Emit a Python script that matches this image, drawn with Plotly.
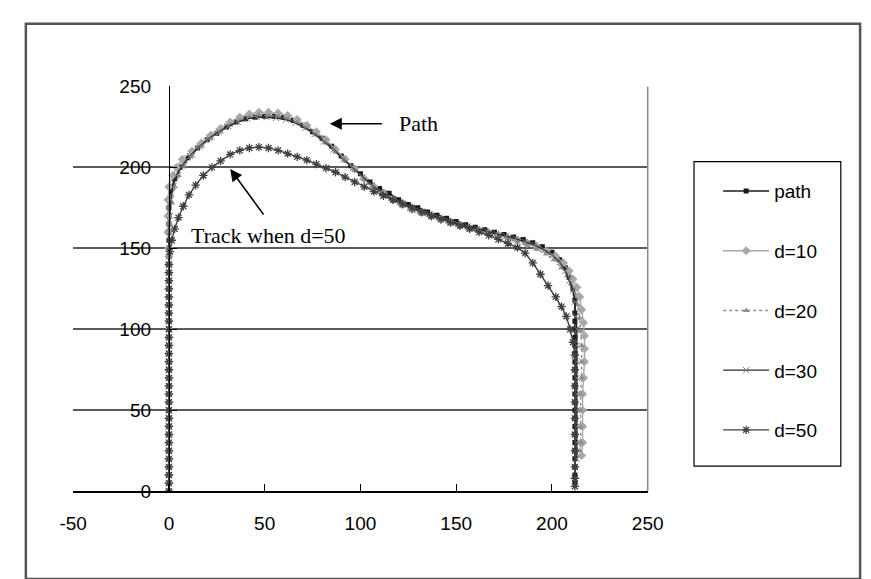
import plotly.graph_objects as go

# ---------------- data ----------------
path_x = [0, 0, 0, 0, 0, 0, 0, 0, 0, 0, 0, 0, 0, 0, 0, 0, 0, 0, 0, 0, 0, 0, 0, 0, 0, 0, 0, 0, 0, 0, 0, 0, 0, 0, 0, 0, 0,
          1, 3, 6, 10, 15, 20, 25, 30, 35, 40, 45, 50, 55, 60, 65, 70, 75, 80, 85, 90, 95, 100, 105, 110, 115, 120,
          125, 130, 135, 140, 145, 150, 155, 160, 165, 170, 175, 180, 185, 190, 195, 200, 204, 207, 209, 211, 212,
          212, 212, 212, 212, 212, 212, 212, 212, 212, 212, 212, 212, 212, 212, 212, 212, 212, 212, 212, 212, 212, 212]
path_y = [0, 5, 10, 15, 20, 25, 30, 35, 40, 45, 50, 55, 60, 65, 70, 75, 80, 85, 90, 95, 100, 105, 110, 115, 120, 125,
          130, 135, 140, 145, 150, 155, 160, 165, 170, 175, 180,
          186, 193, 200, 206, 212, 217, 221, 225, 228, 230, 231, 231.5, 231.5, 231, 229, 226, 222, 218, 213, 207, 201,
          196, 191, 187, 184, 180, 177, 175, 172.5, 170.5, 168.5, 166.5, 164.5, 163, 161.5, 160, 158.5, 157, 155.5,
          153.5, 151, 147.5, 143, 138, 132, 125, 118,
          110, 105, 100, 95, 90, 85, 80, 75, 70, 65, 60, 55, 50, 45, 40, 35, 30, 25, 20, 15, 10, 5, 0]

d10_x = [0, 0, 0, 0, 0, 0, 0, 0, 0, 0, 0, 0, 0, 0, 0, 0, 0, 0, 0, 0, 0, 0, 0, 0, 0, 0, 0, 0, 0, 0, 0,
         -0.5, -0.5, -0.5, 0, 2, 4, 7, 12, 17, 22, 27, 32, 37, 42, 47, 52, 57, 62, 67, 72, 77, 82, 87, 92, 97, 102,
         107, 112, 117, 122, 127, 132, 137, 142, 147, 152, 157, 162, 167, 172, 177, 182, 187, 192, 197, 202, 206,
         209, 211, 213, 214.5, 215.5, 216.5, 217, 217, 217, 216.5, 216, 216, 216, 216, 215.5]
d10_y = [0, 5, 10, 15, 20, 25, 30, 35, 40, 45, 50, 55, 60, 65, 70, 75, 80, 85, 90, 95, 100, 105, 110, 115, 120, 125,
         130, 135, 140, 145, 150,
         160, 170, 180, 188, 195, 200, 205, 210, 215, 220, 224, 228, 231, 233, 234, 234, 233.5, 232, 229.5, 226, 222,
         217, 211, 205, 199, 193, 188, 184, 180, 177, 174, 172, 170, 168, 166, 164, 162.5, 161, 159.5, 158, 156.5,
         155, 153, 151, 148.5, 145, 141, 136, 131, 126, 120, 112, 104, 96, 88, 80, 70, 60, 50, 40, 30, 22]

d20_x = [0, 0, 0, 0, 0, 0, 0, 0, 0, 0, 0, 0, 0, 0, 0, 0, 0, 0, 0, 0, 0, 0, 0, 0, 0, 0, 0, 0, 0, 0, 0,
         0.5, 1.5, 3, 5, 8, 12, 17, 22, 27, 32, 37, 42, 47, 52, 57, 62, 67, 72, 77, 82, 87, 92, 97, 102, 107, 112,
         117, 122, 127, 132, 137, 142, 147, 152, 157, 162, 167, 172, 177, 182, 187, 192, 197, 201, 205, 208, 210,
         212, 213.5, 214.5, 215, 215.5, 215.5, 215.5, 215, 215, 215, 215, 214.5]
d20_y = [0, 5, 10, 15, 20, 25, 30, 35, 40, 45, 50, 55, 60, 65, 70, 75, 80, 85, 90, 95, 100, 105, 110, 115, 120, 125,
         130, 135, 140, 145, 150,
         165, 178, 188, 195, 201, 207, 213, 218, 222, 226, 229, 231, 232, 232, 231.5, 230, 227.5, 224, 220, 215,
         209.5, 204, 198, 192.5, 187.5, 183, 179, 176, 173, 171, 169, 167, 165, 163.5, 162, 160.5, 159, 157.5, 156,
         154, 152, 149.5, 146.5, 143, 138, 133, 128, 122, 115, 107, 99, 90, 80, 70, 60, 50, 40, 30, 25]

d30_x = [0, 0, 0, 0, 0, 0, 0, 0, 0, 0, 0, 0, 0, 0, 0, 0, 0, 0, 0, 0, 0, 0, 0, 0, 0, 0, 0, 0, 0, 0, 0,
         0, 0.5, 1, 2, 4, 7, 11, 16, 21, 26, 31, 36, 41, 46, 51, 56, 61, 66, 71, 76, 81, 86, 91, 96, 101, 106, 111,
         116, 121, 126, 131, 136, 141, 146, 151, 156, 161, 166, 171, 176, 181, 186, 191, 196, 200, 204, 207, 209,
         211, 212, 212.5, 213, 213, 213, 213, 213, 213, 213, 213, 213]
d30_y = [0, 5, 10, 15, 20, 25, 30, 35, 40, 45, 50, 55, 60, 65, 70, 75, 80, 85, 90, 95, 100, 105, 110, 115, 120, 125,
         130, 135, 140, 145, 150,
         160, 170, 180, 188, 195, 201, 207, 213, 218, 222, 225.5, 228, 230, 231, 231, 230.5, 229.5, 227.5, 224.5,
         220.5, 216, 211, 205, 199.5, 194, 189, 184.5, 181, 178, 175, 173, 171, 169, 167, 165, 163.5, 162, 160.5,
         159, 157.5, 156, 154, 152, 149, 146, 141.5, 136, 130, 124, 117, 108, 100, 90, 80, 70, 60, 50, 40, 30, 20]

d50_x = [0, 0, 0, 0, 0, 0, 0, 0, 0, 0, 0, 0, 0, 0, 0, 0, 0, 0, 0, 0, 0, 0, 0, 0, 0, 0, 0, 0, 0,
         0.5, 1.5, 3, 5, 7.5, 10.5, 14, 18, 22.5, 27, 32, 37, 42, 47, 52, 57, 62, 67, 72, 77, 82, 87, 92, 97, 102,
         107, 112, 117, 122, 127, 132, 137, 142, 147, 152, 157, 162, 167, 172, 177, 182, 186, 190, 194, 198, 202,
         205, 207.5, 209.5, 211, 212, 212, 212, 212, 212, 212, 212, 212, 212, 212]
d50_y = [0, 5, 10, 15, 20, 25, 30, 35, 40, 45, 50, 55, 60, 65, 70, 75, 80, 85, 90, 95, 100, 105, 110, 115, 120, 125,
         130, 135, 140,
         148, 155, 162, 169, 176, 183, 189, 195, 200, 204, 208, 210.5, 212, 212.5, 212, 210.5, 208.5, 206.5, 204.5,
         202, 199.5, 197, 194, 191, 188, 185, 182.5, 180, 177.5, 175, 172.5, 170, 168, 166, 164, 162, 160, 158,
         155.5, 153, 150.5, 147, 141, 134, 127, 120, 114, 108, 100, 92, 84, 75, 65, 55, 45, 35, 25, 15, 8, 3]

x_ticks = [-50, 0, 50, 100, 150, 200, 250]
y_ticks = [0, 50, 100, 150, 200, 250]

# ---------------- layout geometry (pixels) ----------------
W, H = 871, 579
px_left, px_right = 53, 648
py_top, py_bottom = 71, 491
xd = [px_left / W, px_right / W]
yd = [(H - py_bottom) / H, (H - py_top) / H]
x_min, x_max = -50, 250
y_min, y_max = 0, 250
yaxis_pos = xd[0] + (0 - x_min) / (x_max - x_min) * (xd[1] - xd[0])

fig = go.Figure()

series = [
    ("path", path_x, path_y, dict(color="#1a1a1a", width=1.6), dict(symbol="square", size=5, color="#1a1a1a")),
    ("d=10", d10_x, d10_y, dict(color="#a8a8a8", width=1.4), dict(symbol="diamond", size=7, color="#a8a8a8")),
    ("d=20", d20_x, d20_y, dict(color="#8f8f8f", width=1.4, dash="dot"), dict(symbol="triangle-up", size=6, color="#8f8f8f")),
    ("d=30", d30_x, d30_y, dict(color="#2a2a2a", width=1.4), dict(symbol="x-thin", size=6, color="#777777", line=dict(width=1, color="#777777"))),
    ("d=50", d50_x, d50_y, dict(color="#404040", width=1.4), dict(symbol="asterisk", size=7, color="#404040", line=dict(width=1.3, color="#404040"))),
]
for i, (name, xs, ys, ln, mk) in enumerate(series):
    fig.add_trace(go.Scatter(x=xs, y=ys, mode="lines+markers", name=name, line=ln, marker=mk,
                             legendgroup=f"g{i}"))

fig.update_layout(
    width=W, height=H,
    margin=dict(l=0, r=0, t=0, b=0),
    paper_bgcolor="white", plot_bgcolor="white",
    font=dict(family="Liberation Sans, Arial, sans-serif", size=19, color="black"),
    xaxis=dict(domain=xd, range=[x_min, x_max], tickvals=x_ticks, ticktext=[str(v) for v in x_ticks],
               showgrid=False, zeroline=False, showline=True, linecolor="black", linewidth=1.5,
               ticks="inside", ticklen=7, tickcolor="black", tickwidth=1.2, ticklabelstandoff=14,
               anchor="y"),
    yaxis=dict(domain=yd, range=[y_min, y_max], tickvals=y_ticks, ticktext=[str(v) for v in y_ticks],
               showgrid=True, gridcolor="#5a5a5a", gridwidth=1.5, zeroline=False,
               showline=True, linecolor="black", linewidth=1.2, ticks="inside", ticklen=7,
               tickcolor="black", anchor="free", position=yaxis_pos, ticklabelstandoff=14),
    legend=dict(x=721 / W, y=1 - 160 / H, xanchor="left", yanchor="top",
                borderwidth=0, bgcolor="rgba(0,0,0,0)",
                font=dict(size=19), tracegroupgap=32, itemwidth=46,
                traceorder="grouped"),
    showlegend=True,
)

# legend frame
fig.add_shape(type="rect", xref="paper", yref="paper", x0=696 / W, x1=848 / W, y0=1 - 465 / H, y1=1 - 149 / H,
              line=dict(color="black", width=1.2), fillcolor="rgba(0,0,0,0)")
# plot-area right border
fig.add_shape(type="line", xref="paper", yref="paper", x0=xd[1], x1=xd[1], y0=yd[0], y1=yd[1],
              line=dict(color="#888888", width=1.5))
# outer chart border (bottom edge lies outside the image)
fig.add_shape(type="rect", xref="paper", yref="paper", x0=4 / W, x1=868 / W, y0=-3 / H, y1=1 - 6 / H,
              line=dict(color="#555555", width=2.5))

serif = dict(family="Liberation Serif, Times New Roman, serif", size=22, color="black")
# "Path" label and arrow
fig.add_annotation(x=119, y=227, xref="x", yref="y", text="Path", showarrow=False, xanchor="left", font=serif)
fig.add_annotation(x=84, y=227, xref="x", yref="y", ax=112, ay=227, axref="x", ayref="y", text="",
                   showarrow=True, arrowhead=2, arrowsize=1.6, arrowwidth=1.5, arrowcolor="black")
# "Track when d=50" label and arrow
fig.add_annotation(x=52, y=158, xref="x", yref="y", text="Track when d=50", showarrow=False, font=serif)
fig.add_annotation(x=32, y=199, xref="x", yref="y", ax=50, ay=170, axref="x", ayref="y", text="",
                   showarrow=True, arrowhead=2, arrowsize=1.6, arrowwidth=1.5, arrowcolor="black")

fig.write_html("out.html")
